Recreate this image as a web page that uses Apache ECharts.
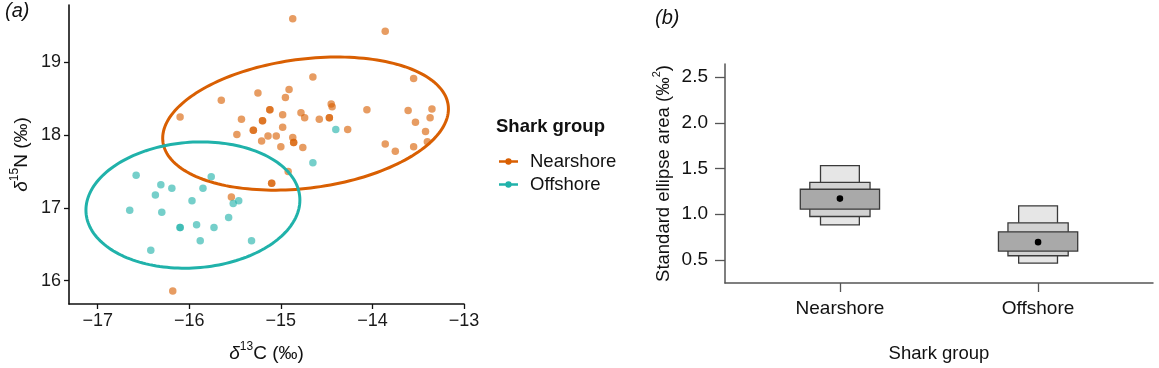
<!DOCTYPE html>
<html>
<head>
<meta charset="utf-8">
<script src="https://cdn.jsdelivr.net/npm/echarts@6/dist/echarts.min.js"></script>
<style>
  html, body { margin: 0; padding: 0; background: #fff; }
  #chart { width: 1159px; height: 368px; }
</style>
</head>
<body>
<div id="chart"></div>
<script>
// ---- panel (a): isotope biplot ----
// Nearshore samples [δ13C, δ15N]; repeated rows are overlapping samples
const nearshorePoints = [
  [-14.87, 19.60], [-13.86, 19.43], [-14.65, 18.80], [-13.55, 18.78], [-14.91, 18.63],
  [-15.25, 18.58], [-14.95, 18.52], [-15.65, 18.48], [-14.45, 18.43], [-14.44, 18.39],
  [-15.12, 18.35], [-15.12, 18.35], [-14.78, 18.31], [-14.06, 18.35], [-13.61, 18.34],
  [-13.35, 18.36], [-16.10, 18.25], [-14.98, 18.28], [-15.43, 18.22], [-15.20, 18.20],
  [-15.20, 18.20], [-14.74, 18.24], [-14.58, 18.22], [-14.47, 18.24], [-14.47, 18.24],
  [-13.37, 18.24], [-13.53, 18.18], [-15.30, 18.07], [-15.30, 18.07], [-14.98, 18.11],
  [-14.27, 18.08], [-15.48, 18.01], [-15.14, 17.99], [-15.05, 17.99], [-13.42, 18.05],
  [-14.87, 17.97], [-15.21, 17.92], [-14.86, 17.90], [-14.86, 17.90], [-13.40, 17.91],
  [-15.00, 17.84], [-14.76, 17.83], [-13.86, 17.88], [-13.55, 17.84], [-13.75, 17.78],
  [-14.92, 17.50], [-15.10, 17.34], [-15.10, 17.34], [-15.54, 17.15], [-16.18, 15.86]
];
const offshorePoints = [
  [-14.40, 18.08], [-14.65, 17.62], [-15.76, 17.43], [-16.58, 17.45], [-16.31, 17.32],
  [-16.19, 17.27], [-15.85, 17.27], [-16.37, 17.18], [-15.97, 17.10], [-15.46, 17.10],
  [-15.52, 17.06], [-16.65, 16.97], [-16.30, 16.94], [-15.57, 16.87], [-16.10, 16.73],
  [-16.10, 16.73], [-15.92, 16.77], [-15.73, 16.73], [-15.88, 16.55], [-15.32, 16.55],
  [-16.42, 16.42]
];
// standard ellipse parameters per group: centre, sd along each axis, correlation
const ellipseCenter = [[-14.73, 18.16], [-15.96, 17.04]];
const ellipseSd = [[1.56, 0.915], [1.168, 0.868]];
const ellipseCor = [0.22, 0.08];
const xTicksA = [-17, -16, -15, -14, -13];
const yTicksA = [16, 17, 18, 19];

// ---- panel (b): standard ellipse area credible intervals ----
const groups = ['Nearshore', 'Offshore'];
const ci95 = [[0.884, 1.531], [0.466, 1.092]];
const ci75 = [[0.975, 1.349], [0.546, 0.906]];
const ci50 = [[1.055, 1.273], [0.597, 0.808]];
const modes = [1.171, 0.695];
const yTicksB = [0.5, 1.0, 1.5, 2.0, 2.5];

const ORANGE = '#D95F02';
const TEAL = '#20B2AA';
const FONT = "'Liberation Sans', Arial, sans-serif";
const boxHalfWidth = [0.098, 0.152, 0.2];   // 95%, 75%, 50% boxes
const boxFill = ['#e6e6e6', '#d2d2d2', '#a9a9a9'];

const chart = echarts.init(document.getElementById('chart'));

function ellipseItem(params, api) {
  const i = params.dataIndex;
  const c = ellipseCenter[i], s = ellipseSd[i], r = ellipseCor[i];
  const pts = [];
  for (let k = 0; k <= 180; k++) {
    const t = (k / 180) * Math.PI * 2;
    const x = c[0] + s[0] * Math.cos(t);
    const y = c[1] + s[1] * (r * Math.cos(t) + Math.sqrt(1 - r * r) * Math.sin(t));
    pts.push(api.coord([x, y]));
  }
  return {
    type: 'polyline',
    shape: { points: pts },
    style: { fill: null, stroke: i === 0 ? ORANGE : TEAL, lineWidth: 3 }
  };
}

function boxItem(params, api) {
  const i = params.dataIndex;
  const x = i + 1;
  const sets = [ci95[i], ci75[i], ci50[i]];
  const children = sets.map((iv, k) => {
    const p1 = api.coord([x - boxHalfWidth[k], iv[1]]);
    const p2 = api.coord([x + boxHalfWidth[k], iv[0]]);
    return {
      type: 'rect',
      shape: { x: p1[0], y: p1[1], width: p2[0] - p1[0], height: p2[1] - p1[1] },
      style: { fill: boxFill[k], stroke: '#3a3a3a', lineWidth: 1.3 }
    };
  });
  const m = api.coord([x, modes[i]]);
  children.push({ type: 'circle', shape: { cx: m[0], cy: m[1], r: 3.3 }, style: { fill: '#000' } });
  return { type: 'group', children };
}

const legendIcon = 'path://M0,4 L24,4 L24,7 L0,7 Z M12,1.5 A4,4 0 1,1 11.99,1.5 Z';
const minus = v => String(v).replace('-', '\u2212');

const nameRich = {
  d: { fontSize: 19, fontStyle: 'italic', color: '#111', lineHeight: 22, verticalAlign: 'bottom' },
  sup: { fontSize: 12, color: '#111', verticalAlign: 'top', lineHeight: 22 },
  t: { fontSize: 19, color: '#111', lineHeight: 22, verticalAlign: 'bottom' }
};

chart.setOption({
  animation: false,
  textStyle: { fontFamily: FONT },
  title: [
    { text: '(a)', left: 5, top: 1, padding: 0, textStyle: { fontSize: 20, fontWeight: 'normal', fontStyle: 'italic', color: '#111', fontFamily: FONT } },
    { text: '(b)', left: 655, top: 8, padding: 0, textStyle: { fontSize: 20, fontWeight: 'normal', fontStyle: 'italic', color: '#111', fontFamily: FONT } },
    { text: 'Shark group', left: 496, top: 117, padding: 0, textStyle: { fontSize: 18.5, fontWeight: 'bold', color: '#111', fontFamily: FONT } }
  ],
  legend: {
    orient: 'vertical',
    left: 499,
    top: 152,
    padding: 0,
    itemWidth: 19,
    itemHeight: 8,
    itemGap: 4,
    textStyle: { fontSize: 18.5, color: '#111', padding: [0, 0, 0, 7], fontFamily: FONT },
    data: [
      { name: 'Nearshore', icon: legendIcon, itemStyle: { color: ORANGE, opacity: 1 } },
      { name: 'Offshore', icon: legendIcon, itemStyle: { color: TEAL, opacity: 1 } }
    ]
  },
  grid: [
    { left: 69, top: 5, width: 395, height: 299 },
    { left: 725, top: 64, width: 428, height: 220 }
  ],
  xAxis: [
    {
      gridIndex: 0, type: 'value', min: -17.313, max: -13,
      name: '{d|δ}{sup|13}{t|C (‰)}', nameLocation: 'middle', nameGap: 37,
      nameTextStyle: { rich: nameRich },
      axisLine: { onZero: false, lineStyle: { color: '#111', width: 1.6 } },
      axisTick: { customValues: xTicksA, length: 5, lineStyle: { color: '#111', width: 1.3 } },
      axisLabel: { customValues: xTicksA, formatter: minus, fontSize: 18, color: '#1a1a1a', margin: 8 },
      splitLine: { show: false }
    },
    {
      gridIndex: 1, type: 'value', min: 0.42, max: 2.58,
      name: 'Shark group', nameLocation: 'middle', nameGap: 61,
      nameTextStyle: { fontSize: 18.5, color: '#111' },
      axisLine: { onZero: false, lineStyle: { color: '#555', width: 1.5 } },
      axisTick: { customValues: [1, 2], length: 9, lineStyle: { color: '#555', width: 1.3 } },
      axisLabel: { customValues: [1, 2], formatter: v => groups[Math.round(v) - 1] || '', fontSize: 19, color: '#111', margin: 16 },
      splitLine: { show: false }
    }
  ],
  yAxis: [
    {
      gridIndex: 0, type: 'value', min: 15.68, max: 19.79,
      name: '{d|δ}{sup|15}{t|N (‰)}', nameLocation: 'middle', nameGap: 38,
      nameTextStyle: { rich: nameRich },
      axisLine: { onZero: false, lineStyle: { color: '#111', width: 1.6 } },
      axisTick: { customValues: yTicksA, length: 5, lineStyle: { color: '#111', width: 1.3 } },
      axisLabel: { customValues: yTicksA, fontSize: 18, color: '#1a1a1a', margin: 8 },
      splitLine: { show: false }
    },
    {
      gridIndex: 1, type: 'value', min: 0.248, max: 2.643,
      name: '{t|Standard ellipse area (‰}{sup|2}{t|)}', nameLocation: 'middle', nameGap: 52,
      nameTextStyle: {
        rich: {
          t: { fontSize: 18.5, color: '#111', lineHeight: 22, verticalAlign: 'bottom' },
          sup: { fontSize: 11, color: '#111', verticalAlign: 'top', lineHeight: 22 }
        }
      },
      axisLine: { onZero: false, lineStyle: { color: '#555', width: 1.5 } },
      axisTick: { customValues: yTicksB, length: 10, lineStyle: { color: '#555', width: 1.3 } },
      axisLabel: { customValues: yTicksB, formatter: v => v.toFixed(1), fontSize: 19, color: '#111', margin: 17 },
      splitLine: { show: false }
    }
  ],
  series: [
    {
      name: 'Nearshore', type: 'scatter', xAxisIndex: 0, yAxisIndex: 0,
      data: nearshorePoints, symbol: 'circle', symbolSize: 7.5,
      itemStyle: { color: ORANGE, opacity: 0.62 }, z: 2
    },
    {
      name: 'Offshore', type: 'scatter', xAxisIndex: 0, yAxisIndex: 0,
      data: offshorePoints, symbol: 'circle', symbolSize: 7.5,
      itemStyle: { color: TEAL, opacity: 0.62 }, z: 2
    },
    {
      name: 'Ellipses', type: 'custom', xAxisIndex: 0, yAxisIndex: 0,
      data: ellipseCenter, renderItem: ellipseItem, silent: true, z: 3
    },
    {
      name: 'SEA', type: 'custom', xAxisIndex: 1, yAxisIndex: 1,
      data: groups.map((g, i) => [i + 1, modes[i]]), renderItem: boxItem, silent: true
    }
  ]
});
</script>
</body>
</html>
